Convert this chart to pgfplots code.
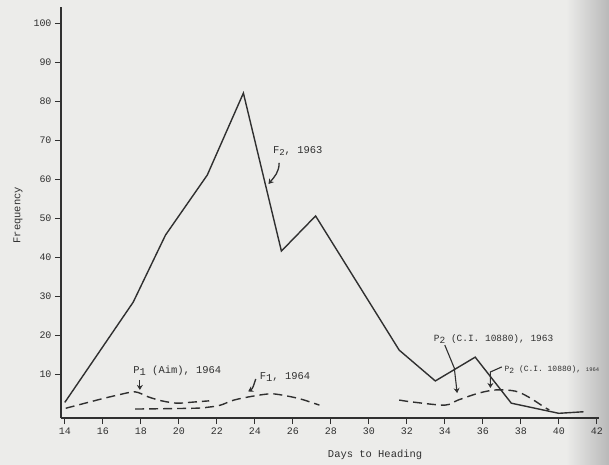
\documentclass[border=0pt]{standalone}
\usepackage{fontspec}
\setmainfont{Liberation Mono}
\usepackage{pgfplots}
\pgfplotsset{compat=1.18}
\usetikzlibrary{arrows.meta}
\definecolor{paper}{HTML}{ECECEA}
\definecolor{ink}{HTML}{303030}
\begin{document}
\begin{tikzpicture}
\path[use as bounding box, fill=paper] (-61bp,-47bp) rectangle (548bp,418bp);
\shade[left color=paper, right color=gray!55] (505bp,-47bp) rectangle (548bp,418bp);
\begin{axis}[
  scale only axis,
  width=537.7bp, height=411.1bp,
  xmin=13.8, xmax=42.1, ymin=-1.2, ymax=104.2,
  axis lines*=left,
  axis line style={ink, line width=1.4bp},
  tick style={ink, line width=1.1bp},
  tick align=outside,
  major tick length=6bp,
  xtick={14,16,...,42},
  ytick={10,20,...,100},
  ticklabel style={font=\fontsize{10}{12}\selectfont, text=ink},
  /pgf/number format/assume math mode=true,
  clip=false,
]
% F2, 1963 (solid)
\addplot[ink, line width=1.4bp] coordinates {
 (14,2.8) (17.6,28.5) (19.3,45.7) (21.5,61.1) (23.4,82.1) (25.4,41.6)
 (27.2,50.6) (31.6,16.2) (33.5,8.3) (35.6,14.4) (37.5,2.6) (40.0,0.0) (41.3,0.4)
};
% P1 (Aim), 1964
\addplot[ink, line width=1.4bp, dash pattern=on 9bp off 5bp, smooth, tension=0.5] coordinates {
 (14.05,1.3) (15.7,3.4) (16.8,4.7) (17.7,5.5) (18.4,4.2) (19.1,3.2) (19.9,2.6) (20.8,2.9) (21.6,3.2)
};
% F1, 1964
\addplot[ink, line width=1.4bp, dash pattern=on 9bp off 5bp, smooth, tension=0.5] coordinates {
 (17.7,1.1) (20.8,1.3) (21.6,1.6) (22.2,2.1) (22.9,3.4) (23.9,4.4) (24.9,5.0) (25.95,4.2) (26.6,3.4) (27.4,2.1)
};
% P2 (C.I. 10880)
\addplot[ink, line width=1.4bp, dash pattern=on 9bp off 5bp, smooth, tension=0.5] coordinates {
 (31.6,3.4) (32.3,2.9) (34.0,2.1) (34.7,3.4) (35.8,5.2) (36.7,6.0) (37.7,5.7) (38.4,4.2) (39.3,1.4) (39.5,0.9)
};
% labels
\node[rotate=90, font=\fontsize{10.5}{12}\selectfont, text=ink] at (axis cs:11.54,50.8) {Frequency};
\node[font=\fontsize{10.5}{12}\selectfont, text=ink] at (axis cs:30.33,-10.7) {Days to Heading};
% annotations
\node[anchor=west, font=\fontsize{10.5}{12}\selectfont, text=ink, inner sep=0pt] at (axis cs:17.6,10.9) {P\raisebox{-0.45ex}{1} (Aim), 1964};
\draw[ink, line width=1.3bp, -{Stealth[length=5bp,width=6bp]}] (axis cs:17.95,8.6) -- (axis cs:17.95,6.0);
\node[anchor=west, font=\fontsize{10.5}{12}\selectfont, text=ink, inner sep=0pt] at (axis cs:24.26,9.3) {F\raisebox{-0.45ex}{1}, 1964};
\draw[ink, line width=1.3bp, -{Stealth[length=5bp,width=6bp]}] (axis cs:24.05,8.8) to[out=-110,in=30] (axis cs:23.65,5.6);
\node[font=\fontsize{10.5}{12}\selectfont, text=ink, inner sep=0pt] at (axis cs:26.26,67.3) {F\raisebox{-0.45ex}{\small 2}, 1963};
\draw[ink, line width=1.3bp, -{Stealth[length=5bp,width=6bp]}] (axis cs:25.28,64.2) to[out=-90,in=50] (axis cs:24.72,58.8);
\node[anchor=west, font=\fontsize{9.5}{11}\selectfont, text=ink, inner sep=0pt] at (axis cs:33.42,19.1) {P\raisebox{-0.45ex}{2} (C.I. 10880), 1963};
\draw[ink, line width=1.1bp] (axis cs:34.0,17.5) -- (axis cs:34.5,11.6);
\draw[ink, line width=1.1bp, -{Stealth[length=5bp,width=6bp]}] (axis cs:34.5,11.6) -- (axis cs:34.65,5.2);
\node[anchor=west, font=\fontsize{8}{10}\selectfont, text=ink, inner sep=0pt] at (axis cs:37.14,11.1) {P\raisebox{-0.45ex}{2} (C.I. 10880), {\fontsize{5.5}{7}\selectfont 1964}};
\draw[ink, line width=1.1bp, -{Stealth[length=5bp,width=6bp]}] (axis cs:37.0,11.9) -- (axis cs:36.4,10.6) -- (axis cs:36.4,6.5);
\end{axis}
\end{tikzpicture}
\end{document}
